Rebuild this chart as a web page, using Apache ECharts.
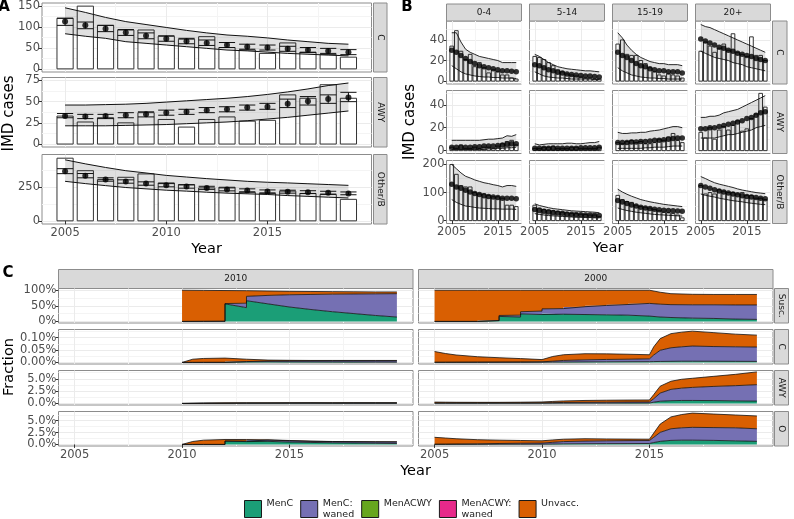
<!DOCTYPE html>
<html>
<head>
<meta charset="utf-8">
<script src="https://cdn.jsdelivr.net/npm/echarts@6/dist/echarts.min.js"></script>
<style>
  html, body { margin: 0; padding: 0; background: #fff; }
  #chart { width: 794px; height: 519px; }
</style>
</head>
<body>
<div id="chart"></div>
<script>
// ---------- data ----------
const years = [2005, 2006, 2007, 2008, 2009, 2010, 2011, 2012, 2013, 2014, 2015, 2016, 2017, 2018, 2019];

// panel A: observed cases, fitted mean with interval, prediction band
const aC_obs  = [121, 150, 104, 93, 93, 78, 71, 77, 51, 45, 37, 62, 40, 34, 28];
const aC_fit  = [113, 104, 96, 87, 79, 72, 66, 62, 57, 53, 51, 48, 45, 43, 40];
const aC_lo   = [104, 96, 89, 80, 72, 66, 60, 56, 51, 47, 45, 42, 39, 37, 34];
const aC_hi   = [121, 112, 104, 94, 86, 79, 73, 69, 63, 59, 57, 54, 51, 49, 46];
const aC_piLo = [84, 78, 73, 65, 61, 57, 53, 49, 45, 43, 40, 37, 35, 33, 31];
const aC_piHi = [146, 135, 123, 113, 106, 99, 92, 86, 81, 78, 74, 69, 65, 61, 59];

const aAWY_obs  = [33, 26, 31, 25, 37, 29, 20, 29, 32, 27, 28, 58, 54, 70, 54];
const aAWY_fit  = [33, 32.5, 33, 34, 35, 37, 38, 40, 41, 43, 44, 47.5, 50.5, 53, 55];
const aAWY_lo   = [31, 30, 30, 31, 32, 34, 35, 37, 38, 40, 41, 43, 46, 48, 50];
const aAWY_hi   = [36, 35, 35, 37, 38, 40, 41, 43, 44, 46, 48, 53, 56, 58, 61];
const aAWY_piLo = [21.5, 21.5, 21.5, 22, 22.5, 23, 24, 25, 26, 27.5, 29.5, 31.5, 34, 36.5, 39];
const aAWY_piHi = [46, 46, 46.5, 47, 48, 49.5, 51, 52.5, 54, 56, 58.5, 61.5, 65, 69, 72];

const aO_obs  = [466, 373, 307, 324, 349, 282, 270, 245, 250, 212, 204, 221, 204, 196, 160];
const aO_fit  = [368, 336, 307, 292, 277, 265, 255, 245, 233, 226, 218, 216, 213, 209, 204];
const aO_lo   = [351, 320, 295, 280, 265, 253, 243, 234, 223, 216, 208, 206, 203, 199, 194];
const aO_hi   = [388, 352, 320, 305, 290, 277, 267, 257, 245, 238, 230, 228, 224, 220, 215];
const aO_piLo = [294, 277, 262, 248, 238, 228, 221, 213, 206, 201, 196, 188, 182, 176, 170];
const aO_piHi = [454, 424, 397, 373, 356, 338, 326, 314, 304, 294, 287, 282, 276, 270, 264];

// panel B: by age group (obs, fit, band low, band high)
const b_C_04_obs = [34, 49, 29, 21, 26, 14, 18, 13, 8, 11, 9, 6, 6, 3, 2];
const b_C_04_fit = [30, 28, 25, 22, 19, 17, 15, 14, 13, 12, 11, 10, 10, 9.5, 9];
const b_C_04_lo  = [15, 12, 9, 7, 6, 5, 4.5, 4, 4, 3.5, 3.5, 3, 3, 3, 2.5];
const b_C_04_hi  = [47, 47, 38, 31, 28, 26, 24, 23, 22, 21, 20, 18, 18, 18, 18];
const b_C_514_obs = [24, 23, 21, 18, 15, 11, 9, 7, 6, 5, 4, 3, 3, 2, 2];
const b_C_514_fit = [16, 15, 13, 11, 10, 8.5, 8, 7, 6.5, 6, 5.5, 5, 5, 4.5, 4];
const b_C_514_lo  = [9, 7, 5, 4, 3.5, 3, 3, 2.5, 2, 2, 2, 2, 2, 1.5, 1.5];
const b_C_514_hi  = [26, 24, 21, 18, 16, 14, 13, 12, 11.5, 11, 10.5, 10, 10, 9.5, 9];
const b_C_1519_obs = [36, 40, 26, 25, 25, 20, 17, 13, 9, 6, 5, 7, 6, 5, 3];
const b_C_1519_fit = [28, 25, 23, 20, 17, 15, 14, 12, 11, 10, 10, 9, 9, 9, 8];
const b_C_1519_lo  = [13, 10, 8, 6, 5, 4, 3.5, 3, 3, 2.5, 2.5, 2, 2, 2, 2];
const b_C_1519_hi  = [47, 42, 35, 30, 26, 23, 21, 19, 18, 17, 17, 16, 16, 16, 15];
const b_C_20_obs = [29, 38, 34, 28, 32, 36, 30, 46, 28, 26, 24, 43, 25, 25, 20];
const b_C_20_fit = [41, 39, 37, 35, 33, 32, 30, 29, 27, 26, 25, 24, 22, 21, 20];
const b_C_20_lo  = [29, 27, 25, 23, 22, 21, 20, 18, 17, 16, 14, 13, 12, 11, 10];
const b_C_20_hi  = [55, 53, 52, 50, 48, 46, 44, 42, 40, 38, 36, 34, 32, 30, 28];

const b_AWY_04_obs = [3, 2, 5, 2, 2, 3, 2, 3, 3, 2, 4, 6, 8, 9, 5];
const b_AWY_04_fit = [3, 3, 3, 3, 3, 3.5, 3.5, 4, 4, 4, 4.5, 5, 5.5, 6, 6];
const b_AWY_04_lo  = [1, 1, 1, 1, 1, 1, 1, 1, 1.5, 1.5, 2, 2, 2.5, 2.5, 3];
const b_AWY_04_hi  = [9, 9, 9, 9, 9, 9, 9, 9.5, 10, 10, 10.5, 11, 13, 12.5, 14];
const b_AWY_514_obs = [2, 2, 3, 3, 4, 2, 2, 2, 3, 3, 2, 2, 2, 2, 3];
const b_AWY_514_fit = [2, 2, 2, 2, 2, 2, 2, 2, 2, 2, 2.5, 2.5, 2.5, 2.5, 3];
const b_AWY_514_lo  = [0.5, 0.5, 0.5, 0.5, 0.5, 0.5, 0.5, 0.5, 0.5, 0.5, 0.5, 0.5, 0.5, 0.5, 0.5];
const b_AWY_514_hi  = [6, 5, 5.5, 6, 6, 6, 6, 6.5, 6.5, 6, 6, 6.5, 7, 7, 8];
const b_AWY_1519_obs = [7, 6, 8, 9, 7, 8, 6, 6, 7, 10, 9, 12, 15, 9, 7];
const b_AWY_1519_fit = [7, 7, 7, 7.5, 7.5, 8, 8, 8.5, 9, 9, 9.5, 10, 10.5, 11, 11];
const b_AWY_1519_lo  = [2, 2, 2, 2, 2, 2, 2.5, 2.5, 3, 3, 3, 3.5, 4, 4, 4];
const b_AWY_1519_hi  = [16, 15, 15, 15.5, 15.5, 16, 16, 17, 17.5, 18, 19, 20, 21, 21, 20];
const b_AWY_20_obs = [16, 11, 20, 10, 18, 21, 18, 22, 26, 17, 19, 28, 32, 50, 38];
const b_AWY_20_fit = [19, 19, 20, 20, 21, 22, 23, 24, 25, 26, 28, 29, 31, 33, 34];
const b_AWY_20_lo  = [11, 11, 11, 11, 12, 13, 14, 14, 15, 16, 17, 18, 20, 21, 22];
const b_AWY_20_hi  = [29, 29, 30, 30, 31, 33, 34, 35, 36, 38, 40, 42, 44, 46, 48];

const b_O_04_obs = [200, 165, 125, 120, 120, 100, 95, 95, 90, 85, 85, 80, 55, 55, 50];
const b_O_04_fit = [130, 120, 115, 108, 102, 97, 93, 89, 86, 84, 82, 80, 80, 80, 78];
const b_O_04_lo  = [75, 65, 58, 52, 50, 47, 45, 44, 43, 42, 42, 41, 41, 41, 40];
const b_O_04_hi  = [200, 185, 170, 158, 152, 145, 140, 135, 132, 128, 125, 120, 125, 125, 122];
const b_O_514_obs = [55, 45, 40, 38, 35, 32, 30, 28, 26, 25, 23, 22, 20, 20, 14];
const b_O_514_fit = [40, 36, 33, 31, 29, 27, 26, 24, 23, 22, 21, 20, 20, 19, 18];
const b_O_514_lo  = [25, 22, 20, 18, 17, 16, 15, 14, 13, 12, 12, 11, 11, 10, 10];
const b_O_514_hi  = [60, 54, 50, 46, 43, 41, 39, 37, 35, 34, 33, 32, 31, 30, 28];
const b_O_1519_obs = [90, 75, 68, 65, 55, 50, 48, 45, 40, 35, 30, 28, 25, 20, 10];
const b_O_1519_fit = [72, 66, 61, 56, 52, 48, 45, 43, 41, 39, 37, 36, 35, 34, 33];
const b_O_1519_lo  = [45, 40, 36, 33, 30, 28, 26, 24, 22, 21, 20, 19, 18, 17, 16];
const b_O_1519_hi  = [112, 102, 94, 87, 81, 75, 71, 67, 64, 61, 58, 56, 54, 52, 50];
const b_O_20_obs = [125, 95, 100, 95, 110, 105, 100, 100, 95, 100, 90, 90, 80, 80, 75];
const b_O_20_fit = [125, 120, 115, 110, 106, 102, 98, 95, 92, 89, 86, 84, 82, 80, 78];
const b_O_20_lo  = [95, 90, 87, 84, 80, 77, 74, 71, 69, 67, 64, 62, 60, 58, 57];
const b_O_20_hi  = [157, 150, 142, 135, 130, 126, 122, 118, 113, 109, 106, 103, 100, 98, 96];

// panel C: fractions in percent per state (MenC, MenC waned, Unvacc.)
const c10_susc_t      = [2010, 2011, 2012, 2012, 2013, 2013, 2014, 2015, 2016, 2017, 2018, 2019, 2020];
const c10_susc_menc   = [0, 0, 0, 56, 44, 66, 56, 46, 38, 31, 25, 19, 14];
const c10_susc_waned  = [0, 0.5, 1, 1, 14, 14, 27, 39, 48, 56, 62.5, 69, 74.5];
const c10_susc_unvacc = [99.5, 98.5, 97.5, 41.5, 40, 18, 14, 11, 9.5, 8, 7, 6, 5.5];

const c00_susc_t      = [2005, 2007, 2007, 2008, 2008, 2009, 2009, 2010, 2010, 2011, 2011, 2012, 2012, 2013, 2013, 2014, 2014, 2015, 2015.5, 2016, 2017, 2018, 2019, 2020];
const c00_susc_menc   = [0, 0, 2.5, 2.5, 16, 14, 24, 22, 25, 23, 24, 22, 23, 21, 22, 20, 20, 17, 14, 12.5, 10.5, 9.5, 7.5, 6.5];
const c00_susc_waned  = [0, 0, 0.5, 0.5, 3, 6, 7, 11, 15, 18, 22, 25, 27, 30, 31, 34, 36, 40.5, 41, 41, 42.5, 43.5, 45, 46];
const c00_susc_unvacc = [99.5, 99.5, 96.5, 96.5, 80.5, 79.5, 68.5, 66.5, 59.5, 58.5, 53.5, 52.5, 49.5, 48.5, 46.5, 45.5, 43.5, 42, 38, 35, 33.5, 33, 33.5, 33.5];

const c10_c_t      = [2010, 2010.5, 2011, 2012, 2012, 2013, 2013, 2014, 2015, 2016, 2017, 2018, 2019, 2020];
const c10_c_menc   = [0, 0, 0, 0, 0.003, 0.002, 0.003, 0.0025, 0.002, 0.0018, 0.0015, 0.0013, 0.0012, 0.001];
const c10_c_waned  = [0, 0.0002, 0.0004, 0.0006, 0.0005, 0.0015, 0.002, 0.003, 0.004, 0.0044, 0.0048, 0.005, 0.0051, 0.0053];
const c10_c_unvacc = [0, 0.0128, 0.0156, 0.0169, 0.014, 0.0095, 0.008, 0.004, 0.0025, 0.0018, 0.0017, 0.0017, 0.0017, 0.0017];

const c00_t = [2005, 2005.5, 2006, 2007, 2008, 2009, 2010, 2010.5, 2011, 2012, 2013, 2014, 2015, 2015.2, 2015.5, 2016, 2016.5, 2017, 2018, 2019, 2020];
const c00_c_menc   = [0.0005, 0.0005, 0.0005, 0.0005, 0.0005, 0.0005, 0.0008, 0.0012, 0.0015, 0.002, 0.0025, 0.0028, 0.003, 0.0035, 0.004, 0.0045, 0.005, 0.005, 0.0048, 0.0045, 0.0042];
const c00_c_waned  = [0, 0.0002, 0.0005, 0.0008, 0.0011, 0.0015, 0.0018, 0.0038, 0.0065, 0.0085, 0.0095, 0.0102, 0.0115, 0.0265, 0.045, 0.0545, 0.058, 0.061, 0.0592, 0.0585, 0.0578];
const c00_c_unvacc = [0.0435, 0.0353, 0.029, 0.0217, 0.0174, 0.0135, 0.0089, 0.019, 0.023, 0.0245, 0.0225, 0.02, 0.0165, 0.033, 0.047, 0.057, 0.059, 0.06, 0.056, 0.051, 0.048];

const c10_awy_t      = [2010, 2011, 2012, 2013, 2014, 2015, 2016, 2017, 2018, 2019, 2020];
const c10_awy_menc   = [0, 0, 0.02, 0.03, 0.03, 0.03, 0.03, 0.02, 0.02, 0.02, 0.02];
const c10_awy_waned  = [0, 0.01, 0.02, 0.04, 0.05, 0.06, 0.07, 0.07, 0.08, 0.08, 0.08];
const c10_awy_unvacc = [0, 0.1, 0.08, 0.06, 0.05, 0.05, 0.05, 0.05, 0.05, 0.05, 0.05];

const c00_awy_menc   = [0.03, 0.03, 0.03, 0.03, 0.03, 0.03, 0.04, 0.05, 0.05, 0.06, 0.06, 0.07, 0.08, 0.25, 0.45, 0.55, 0.6, 0.6, 0.58, 0.52, 0.47];
const c00_awy_waned  = [0.07, 0.07, 0.07, 0.07, 0.08, 0.08, 0.08, 0.1, 0.15, 0.17, 0.19, 0.21, 0.22, 0.7, 1.65, 2.3, 2.5, 2.65, 2.87, 3.08, 3.33];
const c00_awy_unvacc = [0.17, 0.15, 0.13, 0.12, 0.11, 0.14, 0.18, 0.25, 0.3, 0.37, 0.4, 0.4, 0.4, 0.85, 1.4, 1.65, 1.8, 1.85, 2.05, 2.3, 2.6];

const c10_o_t      = [2010, 2010.5, 2011, 2012, 2012, 2013, 2013, 2014, 2015, 2016, 2017, 2018, 2019, 2020];
const c10_o_menc   = [0, 0, 0, 0, 0.7, 0.6, 0.75, 0.65, 0.5, 0.42, 0.35, 0.3, 0.25, 0.2];
const c10_o_waned  = [0, 0, 0, 0, 0.02, 0.1, 0.2, 0.27, 0.28, 0.24, 0.25, 0.26, 0.28, 0.32];
const c10_o_unvacc = [0, 0.62, 0.9, 1.04, 0.32, 0.33, 0.08, 0.05, 0.05, 0.04, 0.02, 0.04, 0.04, 0.04];

const c00_o_menc   = [0.02, 0.02, 0.03, 0.03, 0.04, 0.04, 0.05, 0.08, 0.12, 0.15, 0.17, 0.18, 0.2, 0.4, 0.65, 0.85, 0.9, 0.9, 0.85, 0.75, 0.65];
const c00_o_waned  = [0.03, 0.04, 0.05, 0.09, 0.16, 0.21, 0.23, 0.37, 0.48, 0.55, 0.59, 0.62, 0.63, 1.1, 1.9, 2.45, 2.6, 2.7, 2.7, 2.75, 2.65];
const c00_o_unvacc = [1.45, 1.29, 1.12, 0.88, 0.7, 0.58, 0.48, 0.5, 0.5, 0.5, 0.39, 0.32, 0.27, 0.9, 1.75, 2.5, 2.8, 3.0, 2.85, 2.7, 2.7];

const ageGroups = ['0-4', '5-14', '15-19', '20+'];
const serogroupsAB = ['C', 'AWY', 'Other/B'];
const cohorts = ['2010', '2000'];
const serogroupsC = ['Susc.', 'C', 'AWY', 'O'];
const stateNames = ['MenC', 'MenC:\nwaned', 'MenACWY', 'MenACWY:\nwaned', 'Unvacc.'];
const stateColors = ['#1b9e77', '#7570b3', '#66a61e', '#e7298a', '#d95f02'];

// ---------- helpers ----------
const FONT = 'DejaVu Sans';
const grids = [], xAxes = [], yAxes = [], series = [], graphics = [];

function axisDef(g, s, labels, major, isX) {
  const vals = major ? s.major : s.minor;
  return {
    type: 'value', gridIndex: g, min: s.min, max: s.max,
    axisLine: { show: false },
    axisTick: { show: labels, customValues: vals, length: isX ? 3.5 : 3, lineStyle: { color: '#333', width: 1 } },
    axisLabel: { show: labels, customValues: vals, margin: isX ? 3 : 2, color: '#4d4d4d', fontSize: 11.5,
                 fontFamily: FONT, formatter: s.fmt || (v => String(v)) },
    splitLine: { show: true, lineStyle: { color: major ? '#ebebeb' : '#f4f4f4', width: 1 } }
  };
}

function panel(box, xs, ys, showX, showY) {
  const g = grids.length;
  grids.push({ left: box[0], top: box[1], width: box[2], height: box[3], show: true,
               borderColor: '#8c8c8c', borderWidth: 1, backgroundColor: 'transparent' });
  const xi = xAxes.length, yi = yAxes.length;
  xAxes.push(axisDef(g, xs, showX, true, true), axisDef(g, xs, false, false, true));
  yAxes.push(axisDef(g, ys, showY, true, false), axisDef(g, ys, false, false, false));
  return { x: xi, y: yi };
}

function strip(x, y, w, h, text, vertical) {
  graphics.push({ type: 'rect', silent: true, shape: { x, y, width: w, height: h },
                  style: { fill: '#d9d9d9', stroke: '#8c8c8c', lineWidth: 1 } });
  graphics.push({ type: 'text', silent: true, x: x + w / 2, y: y + h / 2,
                  rotation: vertical ? -Math.PI / 2 : 0,
                  style: { text, fill: '#1a1a1a', font: '9px ' + FONT, align: 'center', verticalAlign: 'middle' } });
}

function label(x, y, text, font, rot) {
  graphics.push({ type: 'text', silent: true, x, y, rotation: rot || 0,
                  style: { text, fill: '#000', font: font + ' ' + FONT, align: 'center', verticalAlign: 'middle' } });
}

function bars(ax, obs, lw) {
  series.push({ type: 'custom', xAxisIndex: ax.x, yAxisIndex: ax.y, silent: true, clip: true,
    data: years.map((yr, i) => [yr, obs[i]]),
    renderItem: (p, api) => {
      const a = api.coord([api.value(0) - 0.4, api.value(1)]);
      const b = api.coord([api.value(0) + 0.4, 0]);
      return { type: 'rect', shape: { x: a[0], y: a[1], width: b[0] - a[0], height: b[1] - a[1] },
               style: { fill: '#fff', stroke: '#333', lineWidth: lw } };
    } });
}

// filled band between two value arrays over x values xs
function polyBand(ax, xs, lo, hi, fill, name) {
  const s = { type: 'custom', xAxisIndex: ax.x, yAxisIndex: ax.y, silent: true, clip: true,
    itemStyle: { color: fill },
    data: xs.map((x, i) => [x, lo[i], hi[i]]),
    renderItem: (p, api) => {
      if (p.dataIndex !== 0) return null;
      const pts = [];
      xs.forEach((x, i) => pts.push(api.coord([x, hi[i]])));
      for (let i = xs.length - 1; i >= 0; i--) pts.push(api.coord([xs[i], lo[i]]));
      return { type: 'polygon', shape: { points: pts }, style: { fill } };
    } };
  if (name) s.name = name;
  series.push(s);
}

function line(ax, xs, vals, lw) {
  series.push({ type: 'line', xAxisIndex: ax.x, yAxisIndex: ax.y, silent: true,
    symbol: 'none', data: xs.map((x, i) => [x, vals[i]]),
    lineStyle: { color: '#111', width: lw } });
}

function errorbars(ax, lo, hi) {
  series.push({ type: 'custom', xAxisIndex: ax.x, yAxisIndex: ax.y, silent: true, clip: true,
    data: years.map((yr, i) => [yr, lo[i], hi[i]]),
    renderItem: (p, api) => {
      const x = api.value(0), l = api.value(1), h = api.value(2);
      const seg = (a, b) => ({ type: 'line', shape: { x1: a[0], y1: a[1], x2: b[0], y2: b[1] },
                               style: { stroke: '#111', lineWidth: 1 } });
      return { type: 'group', children: [
        seg(api.coord([x - 0.4, l]), api.coord([x + 0.4, l])),
        seg(api.coord([x - 0.4, h]), api.coord([x + 0.4, h])),
        seg(api.coord([x, l]), api.coord([x, h]))
      ] };
    } });
}

function points(ax, fit, size) {
  series.push({ type: 'scatter', xAxisIndex: ax.x, yAxisIndex: ax.y, silent: true,
    symbol: 'circle', symbolSize: size, itemStyle: { color: '#000' },
    data: years.map((yr, i) => [yr, fit[i]]) });
}

// ---------- panel A ----------
const aX = { min: 2003.86, max: 2020.14, major: [2005, 2010, 2015], minor: [2007.5, 2012.5, 2017.5] };
const aRows = [
  { top: 3, h: 69, y: { min: -7.5, max: 157.5, major: [0, 50, 100, 150], minor: [25, 75, 125] },
    obs: aC_obs, fit: aC_fit, lo: aC_lo, hi: aC_hi, piLo: aC_piLo, piHi: aC_piHi },
  { top: 77.5, h: 69.5, y: { min: -3.5, max: 78.5, major: [0, 25, 50, 75], minor: [12.5, 37.5, 62.5] },
    obs: aAWY_obs, fit: aAWY_fit, lo: aAWY_lo, hi: aAWY_hi, piLo: aAWY_piLo, piHi: aAWY_piHi },
  { top: 154.5, h: 69.5, y: { min: -23.5, max: 493.5, major: [0, 250], minor: [125, 375] },
    obs: aO_obs, fit: aO_fit, lo: aO_lo, hi: aO_hi, piLo: aO_piLo, piHi: aO_piHi }
];
aRows.forEach((r, i) => {
  const ax = panel([42, r.top, 329.5, r.h], aX, r.y, i === 2, true);
  bars(ax, r.obs, 1);
  polyBand(ax, years, r.piLo, r.piHi, 'rgba(0,0,0,0.12)');
  line(ax, years, r.piLo, 1);
  line(ax, years, r.piHi, 1);
  errorbars(ax, r.lo, r.hi);
  points(ax, r.fit, 6);
  strip(373.5, r.top, 13.5, r.h, serogroupsAB[i], true);
});
label(4, 7, 'A', 'bold 15px');
label(9, 113.5, 'IMD cases', '15px', Math.PI / 2);
label(206.5, 249, 'Year', '14.5px');

// ---------- panel B ----------
const bX = { min: 2003.86, max: 2020.14, major: [2005, 2015], minor: [2010, 2020] };
const bY = [
  { min: -2.8, max: 58.4, major: [0, 20, 40], minor: [10, 30, 50] },
  { min: -2.5, max: 52.5, major: [0, 20, 40], minor: [10, 30, 50] },
  { min: -10.2, max: 214.2, major: [0, 100, 200], minor: [50, 150] }
];
const bTops = [21, 90.5, 160.5];
const bLefts = [446.5, 529.5, 612.5, 695.5];
const bData = [
  [[b_C_04_obs, b_C_04_fit, b_C_04_lo, b_C_04_hi], [b_C_514_obs, b_C_514_fit, b_C_514_lo, b_C_514_hi],
   [b_C_1519_obs, b_C_1519_fit, b_C_1519_lo, b_C_1519_hi], [b_C_20_obs, b_C_20_fit, b_C_20_lo, b_C_20_hi]],
  [[b_AWY_04_obs, b_AWY_04_fit, b_AWY_04_lo, b_AWY_04_hi], [b_AWY_514_obs, b_AWY_514_fit, b_AWY_514_lo, b_AWY_514_hi],
   [b_AWY_1519_obs, b_AWY_1519_fit, b_AWY_1519_lo, b_AWY_1519_hi], [b_AWY_20_obs, b_AWY_20_fit, b_AWY_20_lo, b_AWY_20_hi]],
  [[b_O_04_obs, b_O_04_fit, b_O_04_lo, b_O_04_hi], [b_O_514_obs, b_O_514_fit, b_O_514_lo, b_O_514_hi],
   [b_O_1519_obs, b_O_1519_fit, b_O_1519_lo, b_O_1519_hi], [b_O_20_obs, b_O_20_fit, b_O_20_lo, b_O_20_hi]]
];
bData.forEach((row, r) => {
  row.forEach((d, c) => {
    const ax = panel([bLefts[c], bTops[r], 75, 63], bX, bY[r], r === 2, c === 0);
    bars(ax, d[0], 1);
    polyBand(ax, years, d[2], d[3], 'rgba(0,0,0,0.12)');
    line(ax, years, d[2], 0.9);
    line(ax, years, d[3], 0.9);
    points(ax, d[1], 5.5);
  });
  strip(772.5, bTops[r], 14.5, 63, serogroupsAB[r], true);
});
ageGroups.forEach((g, c) => strip(bLefts[c], 4, 75, 17, g, false));
label(407, 7, 'B', 'bold 15px');
label(410, 122, 'IMD cases', '15px', Math.PI / 2);
label(608, 248, 'Year', '14.5px');

// ---------- panel C ----------
const cX = { min: 2004.25, max: 2020.75, major: [2005, 2010, 2015], minor: [2007.5, 2012.5, 2017.5] };
const cY = [
  { min: -5, max: 105, major: [0, 50, 100], minor: [25, 75], fmt: v => v + '%' },
  { min: -0.0063, max: 0.1327, major: [0, 0.05, 0.1], minor: [0.025, 0.075, 0.125], fmt: v => v.toFixed(2) + '%' },
  { min: -0.32, max: 6.68, major: [0, 2.5, 5], minor: [1.25, 3.75, 6.25], fmt: v => v.toFixed(1) + '%' },
  { min: -0.33, max: 6.94, major: [0, 2.5, 5], minor: [1.25, 3.75, 6.25], fmt: v => v.toFixed(1) + '%' }
];
const cTops = [288.5, 329.5, 370.5, 411.5];
const cLefts = [58.5, 418.5];
const cData = [
  [[c10_susc_t, c10_susc_menc, c10_susc_waned, c10_susc_unvacc], [c00_susc_t, c00_susc_menc, c00_susc_waned, c00_susc_unvacc]],
  [[c10_c_t, c10_c_menc, c10_c_waned, c10_c_unvacc], [c00_t, c00_c_menc, c00_c_waned, c00_c_unvacc]],
  [[c10_awy_t, c10_awy_menc, c10_awy_waned, c10_awy_unvacc], [c00_t, c00_awy_menc, c00_awy_waned, c00_awy_unvacc]],
  [[c10_o_t, c10_o_menc, c10_o_waned, c10_o_unvacc], [c00_t, c00_o_menc, c00_o_waned, c00_o_unvacc]]
];
let firstC = null;
cData.forEach((row, r) => {
  row.forEach((d, c) => {
    const ax = panel([cLefts[c], cTops[r], 354.5, 34.5], cX, cY[r], r === 3, c === 0);
    if (!firstC) firstC = ax;
    // stack the three state layers
    const base = d[0].map(() => 0);
    const top1 = d[1];
    const top2 = d[1].map((v, i) => v + d[2][i]);
    const top3 = top2.map((v, i) => v + d[3][i]);
    polyBand(ax, d[0], base, top1, stateColors[0], stateNames[0]);
    polyBand(ax, d[0], top1, top2, stateColors[1], stateNames[1]);
    polyBand(ax, d[0], top2, top3, stateColors[4], stateNames[4]);
    [top1, top2, top3].forEach(t => line(ax, d[0], t, 0.8));
  });
  strip(774.5, cTops[r], 14, 34.5, serogroupsC[r], true);
});
// legend-only entries (MenACWY states are empty in these rows)
[2, 3].forEach(k => series.push({ type: 'custom', name: stateNames[k], xAxisIndex: firstC.x, yAxisIndex: firstC.y,
  data: [], itemStyle: { color: stateColors[k] }, renderItem: () => null }));
cohorts.forEach((c, i) => strip(cLefts[i], 269.5, 354.5, 19, c, false));
label(8, 273, 'C', 'bold 15px');
label(9, 367, 'Fraction', '14.5px', Math.PI / 2);
label(415.5, 471, 'Year', '14.5px');

// ---------- chart ----------
const chart = echarts.init(document.getElementById('chart'));
chart.setOption({
  animation: false,
  backgroundColor: '#fff',
  grid: grids,
  xAxis: xAxes,
  yAxis: yAxes,
  series: series,
  legend: {
    data: stateNames, left: 244, top: 498, padding: 0, itemWidth: 17, itemHeight: 17, itemGap: 7,
    icon: 'rect', selectedMode: false,
    itemStyle: { borderColor: '#1a1a1a', borderWidth: 1 },
    textStyle: { fontFamily: FONT, fontSize: 9.5, color: '#1a1a1a', lineHeight: 11 },
    formatter: n => (n.indexOf('\n') >= 0 ? n : n + '\n ')
  },
  graphic: graphics
});
</script>
</body>
</html>
